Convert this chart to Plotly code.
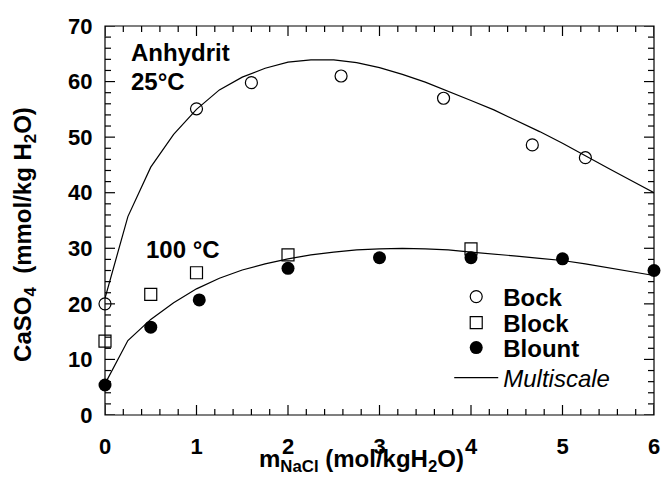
import plotly.graph_objects as go

# Data
bock_x = [0.0, 1.0, 1.6, 2.58, 3.7, 4.67, 5.25]
bock_y = [20.0, 55.1, 59.8, 61.0, 57.0, 48.6, 46.3]

block_x = [0.0, 0.5, 1.0, 2.0, 4.0]
block_y = [13.3, 21.7, 25.6, 28.8, 29.9]

blount_x = [0.0, 0.5, 1.03, 2.0, 3.0, 4.0, 5.0, 6.0]
blount_y = [5.4, 15.8, 20.7, 26.4, 28.3, 28.3, 28.1, 26.0]

model_x = [0, 0.25, 0.5, 0.75, 1.0, 1.25, 1.5, 1.75, 2.0, 2.25, 2.5, 2.75, 3.0,
           3.25, 3.5, 3.75, 4.0, 4.25, 4.5, 4.75, 5.0, 5.25, 5.5, 5.75, 6.0]
model25_y = [21.0, 35.7, 44.6, 50.5, 55.0, 58.5, 60.8, 62.4, 63.5, 63.9, 63.9, 63.4, 62.5,
             61.3, 59.9, 58.3, 56.6, 54.9, 53.0, 51.0, 48.9, 46.6, 44.4, 42.2, 40.0]
model100_y = [5.6, 13.4, 17.2, 20.2, 22.7, 24.6, 26.1, 27.2, 28.1, 28.8, 29.3, 29.7, 29.9,
              30.0, 29.9, 29.7, 29.3, 29.0, 28.6, 28.2, 27.8, 27.2, 26.5, 25.8, 25.1]

x_ticks = [0, 1, 2, 3, 4, 5, 6]
y_ticks = [0, 10, 20, 30, 40, 50, 60, 70]
x_minor_step = 0.2
y_minor_step = 2

FONT = "Liberation Sans, Arial, sans-serif"
NB = "\u00a0"

W, H = 661, 481
M = dict(l=105, r=7, t=26, b=66)
PW = W - M["l"] - M["r"]
PH = H - M["t"] - M["b"]

fig = go.Figure()

fig.add_trace(go.Scatter(x=model_x, y=model25_y, mode="lines",
                         line=dict(color="black", width=1.2),
                         name="<i>Multiscale</i>", legendgroup="m",
                         showlegend=False, cliponaxis=False))
fig.add_trace(go.Scatter(x=model_x, y=model100_y, mode="lines",
                         line=dict(color="black", width=1.2),
                         name="<i>Multiscale</i>", legendgroup="m",
                         showlegend=False, cliponaxis=False))

fig.add_trace(go.Scatter(x=bock_x, y=bock_y, mode="markers", name="<b>Bock</b>",
                         marker=dict(symbol="circle-open", size=12, color="black",
                                     line=dict(width=1.2)),
                         cliponaxis=False, legend="legend"))
fig.add_trace(go.Scatter(x=block_x, y=block_y, mode="markers", name="<b>Block</b>",
                         marker=dict(symbol="square-open", size=12, color="black",
                                     line=dict(width=1.2)),
                         cliponaxis=False, legend="legend2"))
fig.add_trace(go.Scatter(x=blount_x, y=blount_y, mode="markers", name="<b>Blount</b>",
                         marker=dict(symbol="circle", size=13, color="black"),
                         cliponaxis=False, legend="legend3"))
fig.add_trace(go.Scatter(x=[None], y=[None], mode="lines",
                         line=dict(color="black", width=1.2),
                         name="<i>Multiscale</i>", legendgroup="m", showlegend=True,
                         legend="legend4"))

tick_font = dict(family=FONT, size=22, color="black")

# axes: labels only (transparent outside ticks set the label offset)
fig.update_xaxes(
    range=[0, 6], tickmode="array", tickvals=x_ticks,
    ticktext=[f"<b>{v}</b>" for v in x_ticks],
    showline=False, ticks="outside", ticklen=12, tickcolor="rgba(255,255,255,0)",
    showgrid=False, zeroline=False, automargin=False, tickfont=tick_font,
)
fig.update_yaxes(
    range=[0, 70], tickmode="array", tickvals=y_ticks,
    ticktext=[f"<b>{v}</b>" for v in y_ticks],
    showline=False, ticks="outside", ticklen=7, tickcolor="rgba(255,255,255,0)",
    showgrid=False, zeroline=False, automargin=False, tickfont=tick_font,
)

# frame and inside tick marks on all four sides, derived from the tick lists
LINE = dict(color="black", width=1.2)
shapes = [dict(type="rect", xref="paper", yref="paper", x0=0, x1=1, y0=0, y1=1,
               line=LINE, layer="above")]

def x_tick(v, length):
    d = length / PH
    return [dict(type="line", xref="x", yref="paper", x0=v, x1=v, y0=0, y1=d,
                 line=LINE, layer="above"),
            dict(type="line", xref="x", yref="paper", x0=v, x1=v, y0=1, y1=1 - d,
                 line=LINE, layer="above")]

def y_tick(v, length):
    d = length / PW
    return [dict(type="line", xref="paper", yref="y", x0=0, x1=d, y0=v, y1=v,
                 line=LINE, layer="above"),
            dict(type="line", xref="paper", yref="y", x0=1, x1=1 - d, y0=v, y1=v,
                 line=LINE, layer="above")]

n_x = int(round((x_ticks[-1] - x_ticks[0]) / x_minor_step))
for i in range(n_x + 1):
    v = round(x_ticks[0] + i * x_minor_step, 6)
    shapes += x_tick(v, 10 if any(abs(v - t) < 1e-9 for t in x_ticks) else 6)
n_y = int(round((y_ticks[-1] - y_ticks[0]) / y_minor_step))
for i in range(n_y + 1):
    v = y_ticks[0] + i * y_minor_step
    shapes += y_tick(v, 10 if v in y_ticks else 6)

# axis titles
annotations = [
    dict(x=0.468, y=-0.072, xref="paper", yref="paper",
         text="<b>m<sub>NaCl</sub> (mol/kgH<sub>2</sub>O)</b>",
         showarrow=False, xanchor="center", yanchor="top",
         font=dict(family=FONT, size=24, color="black")),
    dict(x=-0.1457, y=0.463, xref="paper", yref="paper",
         text=f"<b>CaSO<sub>4</sub>{NB}{NB}(mmol/kg H<sub>2</sub>O)</b>",
         showarrow=False, xanchor="center", yanchor="middle", textangle=-90,
         font=dict(family=FONT, size=24, color="black")),
]
ann_font = dict(family=FONT, size=24, color="black")
annotations += [
    dict(x=0.26, y=65.2, xref="x", yref="y", text="<b>Anhydrit</b>",
         showarrow=False, xanchor="left", yanchor="middle", font=ann_font),
    dict(x=0.26, y=60.0, xref="x", yref="y", text="<b>25°C</b>",
         showarrow=False, xanchor="left", yanchor="middle", font=ann_font),
    dict(x=0.43, y=29.7, xref="x", yref="y", text="<b>100 °C</b>",
         showarrow=False, xanchor="left", yanchor="middle", font=ann_font),
]

leg_common = dict(x=0.627, xanchor="left", yanchor="middle",
                  bgcolor="rgba(0,0,0,0)", borderwidth=0, tracegroupgap=0,
                  font=dict(family=FONT, size=24, color="black"), itemwidth=44)

fig.update_layout(
    width=W, height=H, margin=M,
    paper_bgcolor="white", plot_bgcolor="white",
    font=dict(family=FONT, color="black"),
    shapes=shapes, annotations=annotations,
    legend=dict(y=0.3033, **leg_common),
    legend2=dict(y=0.2365, **leg_common),
    legend3=dict(y=0.1722, **leg_common),
    legend4=dict(y=0.0951, **leg_common),
)

fig.write_html("out.html", config={"displayModeBar": False},
               post_script="document.body.style.margin='0px';document.body.style.padding='0px';")
